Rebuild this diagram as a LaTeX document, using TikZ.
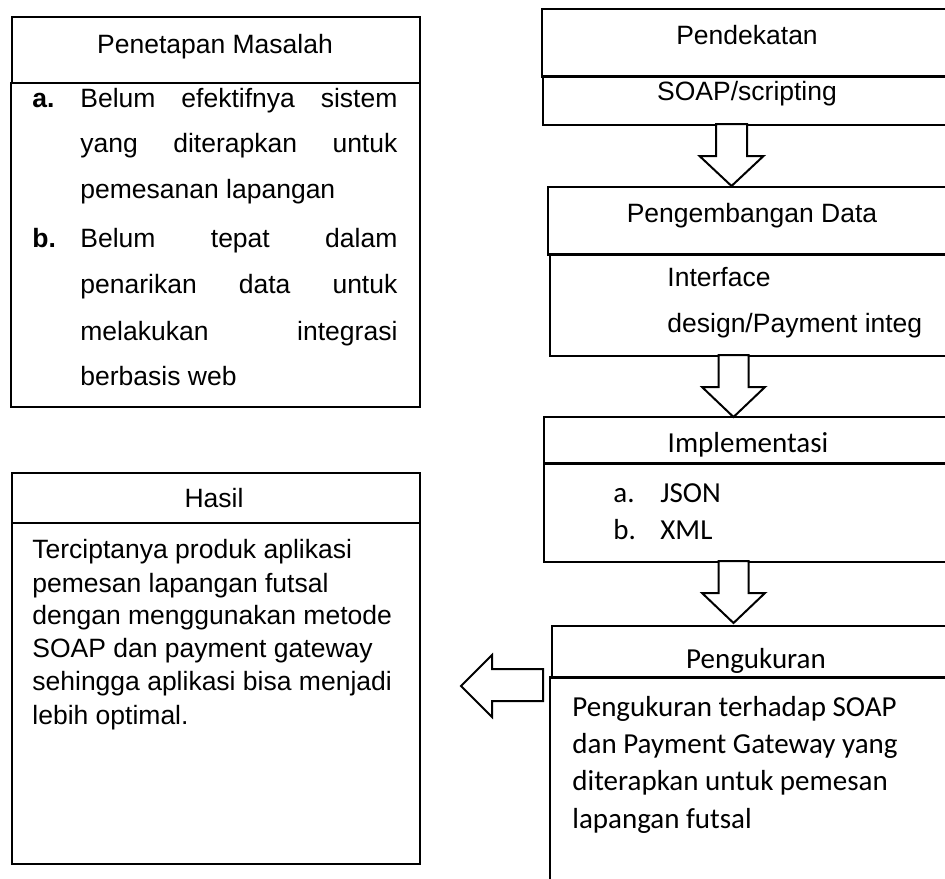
\documentclass[tikz,border=0pt]{standalone}
\usepackage{fontspec}
\setmainfont{Liberation Sans}
\newfontfamily\calib{Carlito}
\newcommand\fa{\fontsize{13.25pt}{16pt}\selectfont}
\newcommand\fc{\calib\fontsize{14.5pt}{17pt}\selectfont}
\newcommand\jl[1]{\makebox[158.5pt][s]{#1}}
\newcommand\blkdown[6]{\draw[blk] (#1-#5,#2) -- (#1+#5,#2) -- (#1+#5,#3) -- (#1+#6,#3) -- (#1,#4) -- (#1-#6,#3) -- (#1-#5,#3) -- cycle;}
\newcommand\openbox[1]{\draw[edge] (#1.north east) -- (#1.north west) -- (#1.south west) -- (#1.south east);}
\begin{document}
\begin{tikzpicture}[x=0.5pt,y=-0.5pt,
  box/.style={draw,line width=1pt,inner sep=0pt,anchor=north west},
  rbox/.style={inner sep=0pt,anchor=north west},
  edge/.style={line width=1pt,line join=miter},
  blk/.style={draw,line width=1pt,fill=white},
  tc/.style={anchor=base,inner sep=0pt,font=\fa},
  tl/.style={anchor=base west,inner sep=0pt,font=\fa},
  cc/.style={anchor=base,inner sep=0pt,font=\fc},
  cl/.style={anchor=base west,inner sep=0pt,font=\fc}]
\useasboundingbox (0,0) rectangle (945,878);
\fill[white] (0,0) rectangle (945,878);
\clip (0,0) rectangle (945,878);
% Penetapan Masalah
\node[box,minimum width=204pt,minimum height=33pt] (pmh) at (11,16) {};
\node[box,minimum width=204.5pt,minimum height=162pt] (pmb) at (10,82) {};
\node[tc] (pmt) at (215,53) {Penetapan Masalah};
\node[tl] (pma) at (32,107) {\textbf{a.}};
\node[tl] (pm1) at (80,107) {\jl{Belum\hfill efektifnya\hfill sistem}};
\node[tl] (pm2) at (80,152) {\jl{yang\hfill diterapkan\hfill untuk}};
\node[tl] (pm3) at (80,198) {pemesanan lapangan};
\node[tl] (pmbb) at (32,247) {\textbf{b.}};
\node[tl] (pm4) at (80,247) {\jl{Belum\hfill tepat\hfill dalam}};
\node[tl] (pm5) at (80,293) {\jl{penarikan\hfill data\hfill untuk}};
\node[tl] (pm6) at (80,340) {\jl{melakukan\hfill integrasi}};
\node[tl] (pm7) at (80,385) {berbasis web};
% Hasil
\node[box,minimum width=204pt,minimum height=25pt] (hsh) at (11,472) {};
\node[box,minimum width=204pt,minimum height=170.5pt] (hsb) at (11,522) {};
\node[tc] (hst) at (214,507) {Hasil};
\node[tl] (hs1) at (32,558) {Terciptanya produk aplikasi};
\node[tl] (hs2) at (32,592) {pemesan lapangan futsal};
\node[tl] (hs3) at (32,624) {dengan menggunakan metode};
\node[tl] (hs4) at (32,657) {SOAP dan payment gateway};
\node[tl] (hs5) at (32,690) {sehingga aplikasi bisa menjadi};
\node[tl] (hs6) at (32,724) {lebih optimal.};
% Pendekatan (right side runs to the picture edge)
\node[rbox,minimum width=201.5pt,minimum height=33.5pt] (pdh) at (542,9) {};
\node[rbox,minimum width=201pt,minimum height=24pt] (pdb) at (543,76) {};
\openbox{pdh}\openbox{pdb}
\node[tc] (pdt) at (747,44) {Pendekatan};
\node[tc] (pd1) at (747,100) {SOAP/scripting};
% Pengembangan Data
\node[rbox,minimum width=198.5pt,minimum height=33.5pt] (pgh) at (548,187) {};
\node[rbox,minimum width=197.5pt,minimum height=50.5pt] (pgb) at (550,254) {};
\openbox{pgh}\openbox{pgb}
\node[tc] (pgt) at (752,222) {Pengembangan Data};
\node[tl] (pg1) at (667,286) {Interface};
\node[tl] (pg2) at (667,332) {design/Payment integ};
% Implementasi
\node[rbox,minimum width=200.5pt,minimum height=23pt] (imh) at (544,417) {};
\node[rbox,minimum width=200.5pt,minimum height=49pt] (imb) at (544,463) {};
\openbox{imh}\openbox{imb}
\node[cc] (imt) at (748,452) {Implementasi};
\node[cl] (ima) at (613,502) {a.};
\node[cl] (im1) at (660,502) {JSON};
\node[cl] (imbb) at (613,539) {b.};
\node[cl] (im2) at (660,539) {XML};
% Pengukuran
\node[rbox,minimum width=196.5pt,minimum height=25.5pt] (pkh) at (552,626) {};
\node[rbox,minimum width=197.5pt,minimum height=115pt] (pkb) at (550,677) {};
\draw[edge] (pkh.north east) -- (pkh.north west) -- (pkh.south west) -- (pkh.south east);
\draw[edge] (pkb.north east) -- (pkb.north west) -- (pkb.south west);
\node[cc] (pkt) at (756,668) {Pengukuran};
\node[cl] (pk1) at (572,716) {Pengukuran terhadap SOAP};
\node[cl] (pk2) at (572,753) {dan Payment Gateway yang};
\node[cl] (pk3) at (572,790) {diterapkan untuk pemesan};
\node[cl] (pk4) at (572,828) {lapangan futsal};
% block arrows
\blkdown{731.5}{124}{156}{186}{15.5}{32}
\blkdown{733.5}{355}{387}{417}{15}{31.5}
\blkdown{733.5}{561}{593}{623}{15}{31.5}
\draw[blk] (543,669) -- (543,701) -- (492,701) -- (492,717) -- (461,686) -- (492,655) -- (492,669) -- cycle;
\end{tikzpicture}
\end{document}
